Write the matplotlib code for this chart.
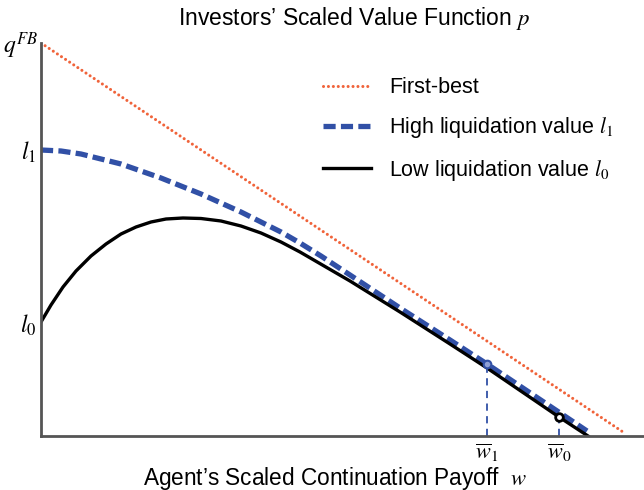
import numpy as np
import matplotlib
matplotlib.use('Agg')
from matplotlib import pyplot as plt

plt.rcParams['font.family'] = ['Liberation Sans', 'DejaVu Sans']
plt.rcParams['mathtext.fontset'] = 'stix'

# first-best line
fb_w = [0.0, 5.82]
fb_p = [3.93, 0.04]

# high liquidation value l1
high_w = [0.0, 0.2, 0.4, 0.6, 0.8, 1.0, 1.2, 1.4, 1.6, 1.8, 2.0, 2.2, 2.4,
          2.59, 2.8, 3.09, 3.59, 4.09, 4.46, 5.46]
high_p = [2.86, 2.85, 2.82, 2.77, 2.72, 2.65, 2.58, 2.50, 2.42, 2.33, 2.24,
          2.14, 2.04, 1.93, 1.80, 1.61, 1.28, 0.96, 0.72, 0.05]

# low liquidation value l0
low_w = [0.0, 0.1, 0.22, 0.35, 0.5, 0.65, 0.8, 0.95, 1.1, 1.25, 1.42, 1.6,
         1.8, 2.0, 2.2, 2.4, 2.59, 3.09, 3.59, 4.09, 4.46, 5.18, 5.47]
low_p = [1.14, 1.31, 1.49, 1.65, 1.80, 1.92, 2.02, 2.09, 2.14, 2.17, 2.18,
         2.175, 2.15, 2.10, 2.03, 1.94, 1.84, 1.55, 1.24, 0.92, 0.68, 0.19, 0.0]

wbar = [4.46, 5.18]
wbar_p = [0.72, 0.19]

fig = plt.figure(figsize=(6.44, 4.9), dpi=100)
ax = fig.add_axes([41/644, 54/490, 603/644, 393/490])
ax.set_xlim(0, 6.03)
ax.set_ylim(0, 3.93)

ax.plot(fb_w, fb_p, color='#f0633a', lw=2.2, linestyle=(0, (0.01, 1.6)),
        dash_capstyle='round', label='First-best')
ax.plot(high_w, high_p, color='#3150a6', lw=3.8, linestyle=(0, (2.3, 1.0)),
        label='High liquidation value $l_1$')
ax.plot(low_w, low_p, color='black', lw=2.4, label='Low liquidation value $l_0$')

# threshold markers
ax.plot([wbar[0], wbar[0]], [0, wbar_p[0]], color='#3150a6', lw=1.3, linestyle=(0, (4, 3)))
ax.plot([wbar[1], wbar[1]], [0, wbar_p[1]], color='#3150a6', lw=1.3, linestyle=(0, (4, 3)))
ax.plot(wbar[0], wbar_p[0], 'o', ms=5.5, mfc='#8fa0d6', mec='#3150a6', mew=1.5)
ax.plot(wbar[1], wbar_p[1], 'o', ms=5.5, mfc='white', mec='black', mew=2)

for s in ['top', 'right']:
    ax.spines[s].set_visible(False)
for s in ['left', 'bottom']:
    ax.spines[s].set_color('#555555')
    ax.spines[s].set_linewidth(2)
ax.set_xticks([])
ax.set_yticks([])

leg = ax.legend(loc='upper left', bbox_to_anchor=(0.468, 0.913), frameon=False,
                fontsize=15.5, handlelength=2.2, labelspacing=0.8, handletextpad=0.85,
                borderpad=0, borderaxespad=0)

# axis labels on the spines
ax.text(-0.03, 3.90, '$q^{FB}$', fontsize=17, ha='right', va='center')
ax.text(-0.05, 2.84, '$l_1$', fontsize=17, ha='right', va='center')
ax.text(-0.05, 1.11, '$l_0$', fontsize=17, ha='right', va='center')
ax.text(wbar[0], -0.05, r'$\overline{w}_1$', fontsize=16, ha='center', va='top')
ax.text(wbar[1], -0.05, r'$\overline{w}_0$', fontsize=16, ha='center', va='top')

fig.text(354/644, 1 - 18/490, 'Investors\u2019 Scaled Value Function $p$',
         fontsize=16.5, ha='center', va='center')
fig.text(335/644, 1 - 478/490, 'Agent\u2019s Scaled Continuation Payoff  $w$',
         fontsize=16.3, ha='center', va='center')

fig.savefig('out.png', dpi=100)
